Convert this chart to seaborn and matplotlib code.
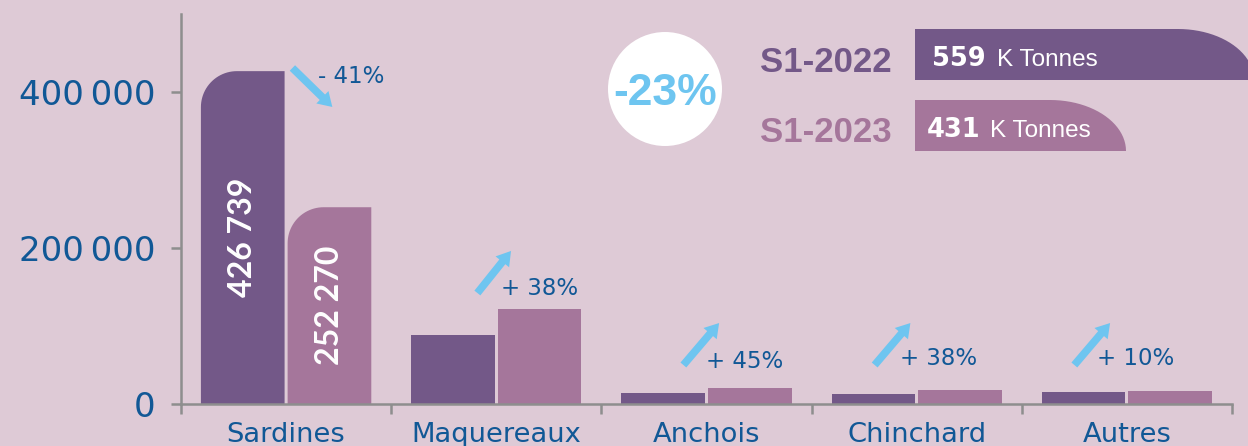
import numpy as np
import pandas as pd
import seaborn as sns
import matplotlib.pyplot as plt
from matplotlib.patches import Ellipse, PathPatch
from matplotlib.path import Path

# data
categories = ["Sardines", "Maquereaux", "Anchois", "Chinchard", "Autres"]
s1_2022 = [426739, 88500, 14000, 12500, 14800]
s1_2023 = [252270, 122000, 21000, 17500, 16300]
periods = ["S1-2022", "S1-2023"]
pct_labels = ["- 41%", "+ 38%", "+ 45%", "+ 38%", "+ 10%"]
totals = ["559", "431"]
total_change = "-23%"
y_ticks = [0, 200000, 400000]

# annotation anchors (data coords)
arrow_tail = [(0.03, 430800), (0.91, 142300), (1.89, 50000), (2.80, 50000), (3.75, 50000)]
arrow_tip = [(0.22, 380800), (1.07, 196200), (2.06, 103800), (2.97, 103800), (3.92, 103800)]
pct_pos = [(0.15, 411500), (1.02, 139700), (2.00, 46200), (2.92, 50000), (3.86, 50000)]

BG = "#DECAD6"
DARK = "#735888"
LIGHT = "#A5769B"
BLUE = "#115896"
CYAN = "#6EC5F0"
GREY = "#8E8E8E"
W, H = 1248, 446

df = pd.DataFrame({
    "espece": categories * 2,
    "periode": [periods[0]] * len(categories) + [periods[1]] * len(categories),
    "tonnes": s1_2022 + s1_2023,
})

sns.set_style("white")
plt.rcParams["font.family"] = ["DejaVu Sans"]

fig = plt.figure(figsize=(W / 100, H / 100), dpi=100, facecolor=BG)
ax = fig.add_axes([181 / W, 42 / H, 1051 / W, 390 / H])
ax.set_facecolor(BG)

sns.barplot(data=df, x="espece", y="tonnes", hue="periode", palette=[DARK, LIGHT],
            width=0.825, gap=0.035, saturation=1, linewidth=0, legend=False, ax=ax)
ax.set_xlim(-0.5, 4.5)
ax.set_ylim(0, 500000)
ax.set_xlabel("")
ax.set_ylabel("")

# rounded top-left corner on the Sardines bars + value inside
r = 36
for bar in list(ax.patches):
    x0, w, h = bar.get_x(), bar.get_width(), bar.get_height()
    if round(x0 + w / 2) != 0:
        continue
    (px0, py0), (px1, py1) = ax.transData.transform([(x0, 0), (x0 + w, h)])
    t = np.linspace(np.pi, np.pi / 2, 24)
    arc = np.column_stack([px0 + r + r * np.cos(t), py1 - r + r * np.sin(t)])
    verts = np.vstack([[(px0, py0)], arc, [(px1, py1), (px1, py0), (px0, py0)]])
    verts = ax.transData.inverted().transform(verts)
    codes = [Path.MOVETO] + [Path.LINETO] * (len(verts) - 2) + [Path.CLOSEPOLY]
    ax.add_patch(PathPatch(Path(verts, codes), facecolor=bar.get_facecolor(), lw=0))
    bar.set_visible(False)
    ax.text(x0 + w / 2, h / 2, f"{int(round(h)):,}".replace(",", " "), rotation=90,
            ha="center", va="center", color="white", fontsize=23,
            family=["Lato", "DejaVu Sans"], fontweight="bold")

# ticks and spines
ax.set_xticks(range(len(categories)))
ax.set_xticklabels(categories)
ax.set_xticks(np.arange(-0.5, len(categories), 1), minor=True)
ax.tick_params(axis="x", which="major", bottom=True, length=0, pad=13,
               labelsize=19.7, labelcolor=BLUE)
ax.tick_params(axis="x", which="minor", bottom=True, length=7.2, width=1.8, color=GREY)
ax.set_yticks(y_ticks)
ax.set_yticklabels([f"{v:,}".replace(",", "\u2009") for v in y_ticks])
ax.tick_params(axis="y", left=True, length=7.2, width=1.8, color=GREY, pad=11,
               labelsize=24.5, labelcolor=BLUE)
for s in ["top", "right"]:
    ax.spines[s].set_visible(False)
for s in ["left", "bottom"]:
    ax.spines[s].set_color(GREY)
    ax.spines[s].set_linewidth(1.8)

# change arrows and percentages
for (tx, ty), (hx, hy), (lx, ly), lab in zip(arrow_tail, arrow_tip, pct_pos, pct_labels):
    ax.annotate("", xy=(hx, hy), xytext=(tx, ty),
                arrowprops=dict(arrowstyle="simple,head_length=1.0,head_width=1.25,tail_width=0.55",
                                mutation_scale=10, color=CYAN, lw=0, shrinkA=0, shrinkB=0))
    ax.text(lx, ly, lab, ha="left", va="baseline", fontsize=16.5, color=BLUE)


# summary block, top right (pixel layout -> figure fraction)
def fx(px):
    return px / W


def fy(py):
    return 1 - py / H


fig.add_artist(Ellipse((fx(665), fy(89)), 114 / W, 114 / H, transform=fig.transFigure,
                       facecolor="white", lw=0))


def legend_bar(x0, x1, top, bottom, color):
    rx, ry = 76, 51
    a = np.linspace(np.pi / 2, 0, 24)
    arc = [(x1 - rx + rx * np.cos(v), top + ry - ry * np.sin(v)) for v in a]
    pts = [(x0, bottom), (x0, top)] + arc + [(x1, bottom), (x0, bottom)]
    verts = [(fx(x), fy(y)) for x, y in pts]
    codes = [Path.MOVETO] + [Path.LINETO] * (len(verts) - 2) + [Path.CLOSEPOLY]
    fig.add_artist(PathPatch(Path(verts, codes), facecolor=color, lw=0,
                             transform=fig.transFigure))


legend_bar(915, 1254, 29, 80, DARK)
legend_bar(915, 1126, 100, 151, LIGHT)

lib = ["Liberation Sans", "DejaVu Sans"]
fig.text(fx(665), fy(105), total_change, ha="center", va="baseline", fontsize=32,
         fontweight="bold", color=CYAN, family=lib)
fig.text(fx(760), fy(72), periods[0], ha="left", va="baseline", fontsize=25,
         fontweight="bold", color=DARK, family=lib)
fig.text(fx(760), fy(142), periods[1], ha="left", va="baseline", fontsize=25,
         fontweight="bold", color=LIGHT, family=lib)
fig.text(fx(932), fy(66), totals[0], ha="left", va="baseline", fontsize=18.5,
         fontweight="bold", color="white")
fig.text(fx(997), fy(66), "K Tonnes", ha="left", va="baseline", fontsize=17.5,
         color="white", family=lib)
fig.text(fx(927), fy(137), totals[1], ha="left", va="baseline", fontsize=18.5,
         fontweight="bold", color="white")
fig.text(fx(990), fy(137), "K Tonnes", ha="left", va="baseline", fontsize=17.5,
         color="white", family=lib)

fig.savefig("out.png", dpi=100, facecolor=BG)
